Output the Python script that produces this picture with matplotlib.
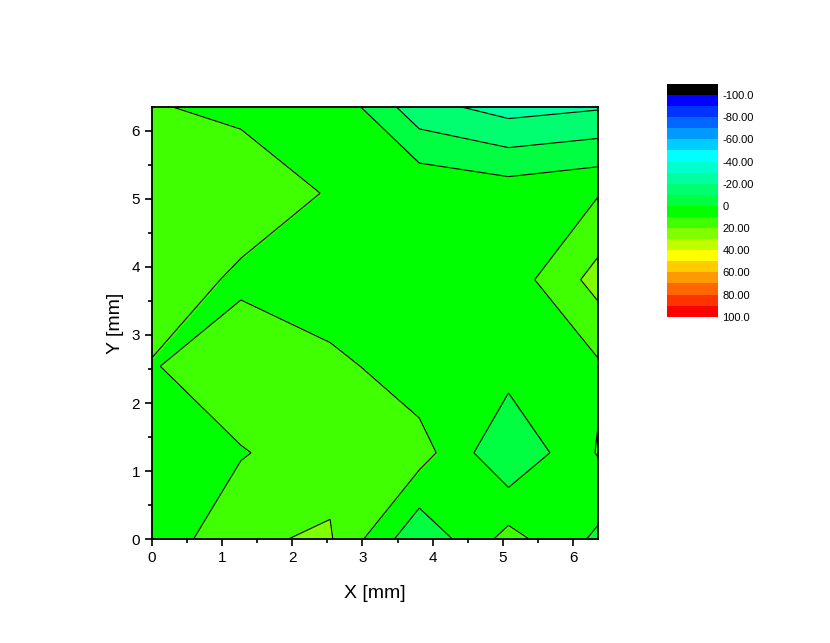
import numpy as np
import matplotlib
matplotlib.use("Agg")
import matplotlib.pyplot as plt
from matplotlib.collections import PolyCollection, LineCollection
from matplotlib.colors import ListedColormap, BoundaryNorm
from matplotlib.cm import ScalarMappable

plt.rcParams['font.family'] = ['Liberation Sans', 'DejaVu Sans']

# grid nodes [mm]
x_nodes = [0.0, 1.27, 2.54, 3.81, 5.08, 6.35]
y_nodes = [0.0, 1.27, 2.54, 3.81, 5.08, 6.35]

# values per row, from y = 0 (bottom) to y = 6.35 (top)
z_y0 = [2.1, 19.0, 20.9, -8.2, 13.7, -2.0]
z_y1 = [6.0, 9.1, 17.0, 14.5, -9.2, 10.6]
z_y2 = [9.0, 19.5, 13.4, 3.3, 4.1, 8.5]
z_y3 = [19.6, 7.1, 1.0, 5.0, 4.3, 23.7]
z_y4 = [15.0, 18.8, 8.9, 8.8, 5.7, 9.3]
z_y5 = [10.9, 6.9, 8.5, -16.5, -24.1, -21.2]

levels = list(range(-110, 101, 10))
band_colors = ['#000000', '#0000ff', '#0033ff', '#0066ff', '#0099ff', '#00ccff',
               '#00ffff', '#00ffcc', '#00ffa0', '#00ff70', '#00ff40', '#00ff00',
               '#40ff00', '#80ff00', '#c0ff00', '#ffff00', '#ffcc00', '#ff9900',
               '#ff6600', '#ff3300', '#ff0000']
cbar_ticks = [-100, -80, -60, -40, -20, 0, 20, 40, 60, 80, 100]
cbar_labels = ['-100.0', '-80.00', '-60.00', '-40.00', '-20.00', '0',
               '20.00', '40.00', '60.00', '80.00', '100.0']

# saddle cells are split on the side of this background value
saddle_ref = 5.0


def crossing(k, lev, v, px, py):
    n = (k + 1) % 4
    t = (lev - v[k]) / (v[n] - v[k])
    return (px[k] + t * (px[n] - px[k]), py[k] + t * (py[n] - py[k]))


def cell_shapes(v, px, py, lev):
    """
    Marching squares for one cell: region z >= lev and the contour segments.
    """
    above = v >= lev
    if above.all():
        return [list(zip(px, py))], []
    if not above.any():
        return [], []
    cr = {k: crossing(k, lev, v, px, py) for k in range(4) if above[k] != above[(k + 1) % 4]}
    saddle = above[0] == above[2] and above[1] == above[3]
    if saddle:
        highs_joined = saddle_ref > lev
        cut = [k for k in range(4) if above[k] != highs_joined]
        segs = [[cr[(k - 1) % 4], cr[k]] for k in cut]
        if highs_joined:
            polys = [[]]
            for k in range(4):
                if above[k]:
                    polys[0].append((px[k], py[k]))
                polys[0].append(cr[k])
        else:
            polys = [[cr[(k - 1) % 4], (px[k], py[k]), cr[k]] for k in cut]
        return polys, segs
    poly = []
    for k in range(4):
        if above[k]:
            poly.append((px[k], py[k]))
        if k in cr:
            poly.append(cr[k])
    return [poly], [list(cr.values())]


zz = np.array([z_y0, z_y1, z_y2, z_y3, z_y4, z_y5])

fig = plt.figure(figsize=(8.3, 6.43), dpi=100)
ax = fig.add_axes([0.1828, 0.1613, 0.5373, 0.6728])

layers, segs = [], []
for j in range(len(y_nodes) - 1):
    for i in range(len(x_nodes) - 1):
        px = [x_nodes[i], x_nodes[i + 1], x_nodes[i + 1], x_nodes[i]]
        py = [y_nodes[j], y_nodes[j], y_nodes[j + 1], y_nodes[j + 1]]
        v = np.array([zz[j, i], zz[j, i + 1], zz[j + 1, i + 1], zz[j + 1, i]])
        for b, lev in enumerate(levels[:-1]):
            if v.min() >= levels[b + 1]:
                continue
            p, s = cell_shapes(v, px, py, lev)
            layers += [(b, poly) for poly in p]
            if b > 0:
                segs += s

# paint level by level so the lower bands never show over the upper ones
layers.sort(key=lambda item: item[0])
polys = [poly for b, poly in layers]
colors = [band_colors[b] for b, poly in layers]

ax.add_collection(PolyCollection(polys, facecolors=colors, edgecolors=colors,
                                 linewidths=0.5, antialiased=False))
ax.add_collection(LineCollection(segs, colors='black', linewidths=0.8))

ax.set_xlim(0, 6.35)
ax.set_ylim(0, 6.35)
ax.set_xticks(range(7))
ax.set_yticks(range(7))
ax.set_xticks(np.arange(0.5, 6.4, 1), minor=True)
ax.set_yticks(np.arange(0.5, 6.4, 1), minor=True)
ax.tick_params(which='both', direction='out', width=1.2, labelsize=11, top=False, right=False)
ax.tick_params(which='major', length=5)
ax.tick_params(which='minor', length=3)
for sp in ax.spines.values():
    sp.set_linewidth(1.3)
ax.set_xlabel("X [mm]", fontsize=14, labelpad=14)
ax.set_ylabel("Y [mm]", fontsize=14, labelpad=5)

cax = fig.add_axes([0.8033, 0.5075, 0.0622, 0.3619])
sm = ScalarMappable(norm=BoundaryNorm(levels, len(band_colors)), cmap=ListedColormap(band_colors))
cbar = fig.colorbar(sm, cax=cax)
cbar.outline.set_visible(False)
cbar.set_ticks(cbar_ticks)
cbar.set_ticklabels(cbar_labels)
cbar.ax.minorticks_off()
cbar.ax.tick_params(which='both', length=0, labelsize=8, pad=3)
cax.invert_yaxis()

fig.savefig("out.png", dpi=100)
